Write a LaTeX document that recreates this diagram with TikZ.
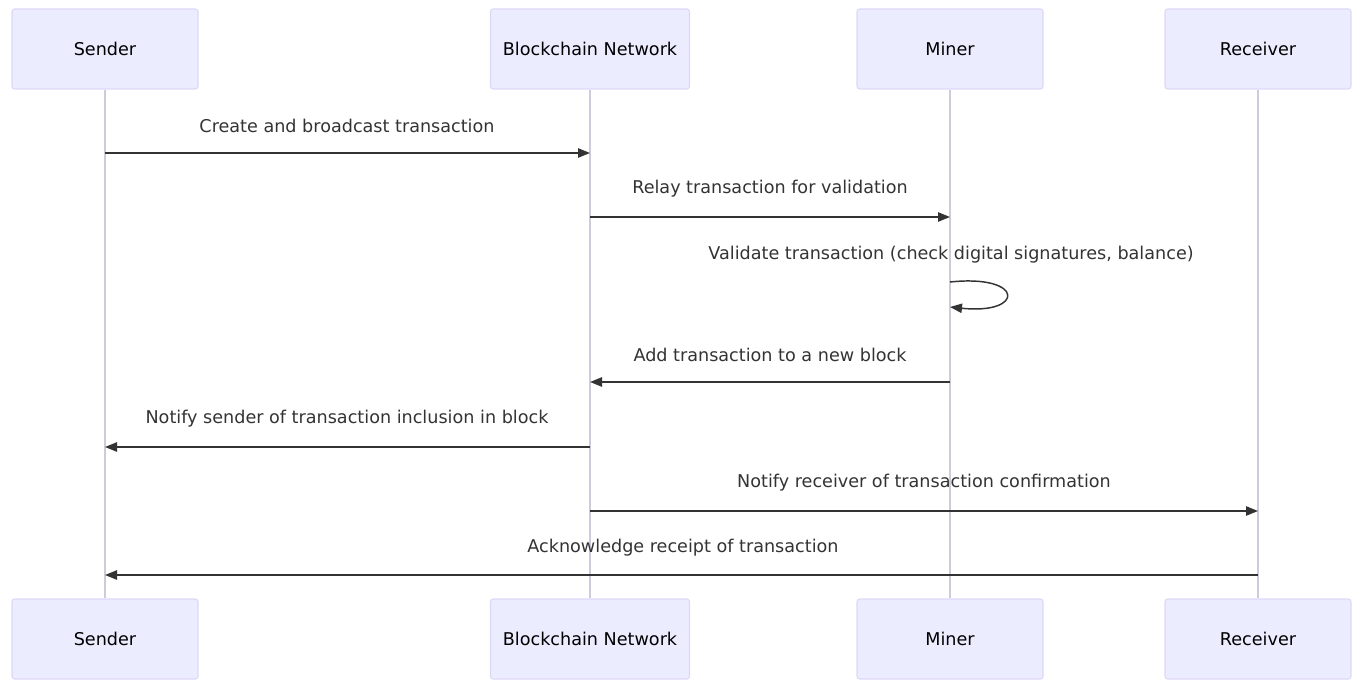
\documentclass[tikz,border=0pt]{standalone}
\usepackage{fontspec}
\setmainfont{DejaVu Sans}
\usetikzlibrary{arrows.meta}
\definecolor{actorfill}{HTML}{ECECFF}
\definecolor{actorline}{HTML}{DCD8F4}
\definecolor{lifeline}{HTML}{CCCCDD}
\definecolor{msgline}{HTML}{333333}
\tikzset{
  actor/.style={draw=actorline, fill=actorfill, rounded corners=2pt, line width=0.8pt,
    minimum width=186*0.75pt, minimum height=80*0.75pt, inner sep=0pt, font=\fontsize{13.2}{15}\selectfont},
  life/.style={draw=lifeline, line width=0.8pt},
  msg/.style={draw=msgline, line width=1.1pt, -{Triangle[length=9pt,width=7pt]}},
  lbl/.style={font=\fontsize{13.2}{15}\selectfont, text=msgline, inner sep=0pt}
}
\begin{document}
\begin{tikzpicture}[x=0.75pt, y=-0.75pt, line join=round]
		\useasboundingbox (0,0) rectangle (1358,681);
		% actors, top and bottom
		\node[actor] (sendTop) at (105,49) {Sender};
		\node[actor, minimum width=199*0.75pt] (netTop) at (590,49) {Blockchain Network};
		\node[actor] (minerTop) at (950,49) {Miner};
		\node[actor] (recvTop) at (1258,49) {Receiver};
		\node[actor] (sendBot) at (105,639) {Sender};
		\node[actor, minimum width=199*0.75pt] (netBot) at (590,639) {Blockchain Network};
		\node[actor] (minerBot) at (950,639) {Miner};
		\node[actor] (recvBot) at (1258,639) {Receiver};
		% lifelines
		\draw[life] (sendTop) -- (sendBot);
		\draw[life] (netTop) -- (netBot);
		\draw[life] (minerTop) -- (minerBot);
		\draw[life] (recvTop) -- (recvBot);
		% messages
		\draw[msg] (sendTop |- 0,153) -- (netTop |- 0,153);
		\node[lbl] (m1) at (347,126) {Create and broadcast transaction};
		\draw[msg] (netTop |- 0,217) -- (minerTop |- 0,217);
		\node[lbl] (m2) at (770,189) {Relay transaction for validation};
		\node[lbl] (m3) at (951,255) {Validate transaction (check digital signatures, balance)};
		\coordinate (loopA) at (minerTop |- 0,282);
		\coordinate (loopB) at (minerTop |- 0,307);
		\draw[msg] (loopA) .. controls +(75,-8) and +(75,8) .. (loopB);
		\draw[msg] (minerTop |- 0,382) -- (netTop |- 0,382);
		\node[lbl] (m4) at (770,355) {Add transaction to a new block};
		\draw[msg] (netTop |- 0,447) -- (sendTop |- 0,447);
		\node[lbl] (m5) at (347,419) {Notify sender of transaction inclusion in block};
		\draw[msg] (netTop |- 0,511) -- (recvTop |- 0,511);
		\node[lbl] (m6) at (924,483) {Notify receiver of transaction confirmation};
		\draw[msg] (recvTop |- 0,575) -- (sendTop |- 0,575);
		\node[lbl] (m7) at (683,548) {Acknowledge receipt of transaction};
\end{tikzpicture}
\end{document}
